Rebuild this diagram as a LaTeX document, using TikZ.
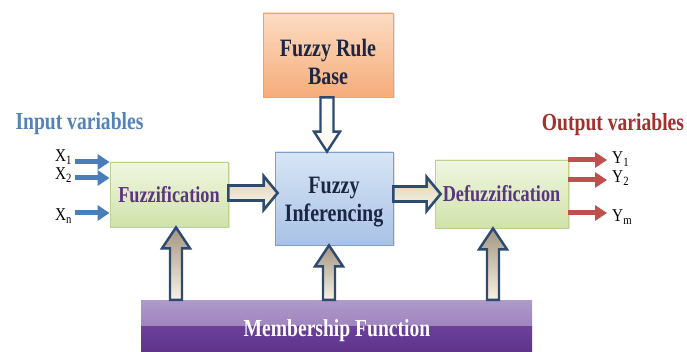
\documentclass[tikz,border=0pt]{standalone}
\usepackage{fontspec}
\setmainfont{Liberation Serif}
\newfontfamily\cf[FakeStretch=0.85]{Liberation Serif}
\newfontfamily\cb[FakeStretch=0.8]{Liberation Serif Bold}
\usetikzlibrary{arrows.meta,calc,shadows}
\definecolor{rbA}{HTML}{FCDCC3}
\definecolor{rbB}{HTML}{F6AC7A}
\definecolor{rbD}{HTML}{F0A06A}
\definecolor{infA}{HTML}{D8E5F5}
\definecolor{infB}{HTML}{A8C2E6}
\definecolor{infD}{HTML}{7E9CCC}
\definecolor{fzA}{HTML}{F0F6E0}
\definecolor{fzB}{HTML}{D0E2AA}
\definecolor{fzD}{HTML}{BCD18C}
\definecolor{mfA}{HTML}{B09BCB}
\definecolor{mfB}{HTML}{8C6DB1}
\definecolor{mfC}{HTML}{6C409B}
\definecolor{mfD}{HTML}{5E3389}
\definecolor{navy}{HTML}{1C2541}
\definecolor{purp}{HTML}{5B3580}
\definecolor{inblue}{HTML}{5483B7}
\definecolor{outred}{HTML}{A2302D}
\definecolor{arrblue}{HTML}{4A7EBB}
\definecolor{arrred}{HTML}{C0504D}
\definecolor{barD}{HTML}{2D4A70}
\definecolor{tanA}{HTML}{A39682}
\definecolor{tanB}{HTML}{F8F2E4}
\definecolor{hA}{HTML}{DDD0AE}
\definecolor{hB}{HTML}{FBF8F0}
\newcommand\uparr[3]{%
  \draw[upbar] let \p1=(#1), \p2=(#2) in
  ({\x2+(#3)-6},{\y1}) -- ({\x2+(#3)-6},{\y2-21}) -- ({\x2+(#3)-14},{\y2-21}) -- ({\x2+(#3)},{\y2})
  -- ({\x2+(#3)+14},{\y2-21}) -- ({\x2+(#3)+6},{\y2-21}) -- ({\x2+(#3)+6},{\y1}) -- cycle;}
\newcommand\downarr[3]{%
  \draw[downbar] let \p1=(#1), \p2=(#2) in
  ({\x1+(#3)-6.5},{\y1}) -- ({\x1+(#3)-6.5},{\y2+20}) -- ({\x1+(#3)-13},{\y2+20}) -- ({\x1+(#3)},{\y2})
  -- ({\x1+(#3)+13},{\y2+20}) -- ({\x1+(#3)+6.5},{\y2+20}) -- ({\x1+(#3)+6.5},{\y1}) -- cycle;}
\newcommand\harr[4]{%
  \draw[hbar] let \p1=(#1), \p2=(#2) in
  ({\x1},{\y1+(#3)+7.5}) -- ({\x2+(#4)-14},{\y1+(#3)+7.5}) -- ({\x2+(#4)-14},{\y1+(#3)+17}) -- ({\x2+(#4)},{\y1+(#3)})
  -- ({\x2+(#4)-14},{\y1+(#3)-17}) -- ({\x2+(#4)-14},{\y1+(#3)-7.5}) -- ({\x1},{\y1+(#3)-7.5}) -- cycle;}
\begin{document}
\begin{tikzpicture}[x=1pt,y=-1pt,
  box/.style={draw, line width=0.8pt, inner sep=0pt,
    drop shadow={opacity=0.22, shadow xshift=1.5pt, shadow yshift=-1.5pt}},
  rbstyle/.style={top color=rbA, bottom color=rbB, draw=rbD},
  infstyle/.style={top color=infA, bottom color=infB, draw=infD},
  fzstyle/.style={top color=fzA, bottom color=fzB, draw=fzD},
  boxtext/.style={inner sep=0pt, align=center, text=navy,
    font=\cb\fontsize{25}{28}\selectfont},
  stagetext/.style={text=purp, font=\cb\fontsize{22.8}{25}\selectfont},
  vartext/.style={anchor=base, font=\cb\fontsize{24.5}{27}\selectfont},
  sym/.style={anchor=base west, inner sep=0pt, font=\cf\fontsize{18}{18}\selectfont},
  upbar/.style={draw=barD, line width=2.4pt, line join=miter, top color=tanA, bottom color=tanB},
  downbar/.style={draw=barD, line width=2.4pt, line join=miter, top color=white, bottom color=hB},
  hbar/.style={draw=barD, line width=2.6pt, line join=miter, top color=hA, bottom color=hB},
  inarr/.style={draw=arrblue, line width=5pt, -{Triangle[length=12pt,width=15pt]}},
  outarr/.style={draw=arrred, line width=5pt, -{Triangle[length=12pt,width=15pt]}}]
\useasboundingbox (0,0) rectangle (687,352);
\fill[white] (0,0) rectangle (687,352);

% boxes
\node[box, rbstyle, minimum width=130pt, minimum height=84pt] (rb) at (328,55) {};
\node[boxtext] (rbt) at (328,62) {\fontsize{25}{26}\selectfont Fuzzy Rule\\Base};
\node[box, infstyle, minimum width=118pt, minimum height=93pt] (inf) at (334,198.5) {};
\node[boxtext] (inft) at (334,202) {Fuzzy\\Inferencing};
\node[box, fzstyle, stagetext, minimum width=118pt, minimum height=65pt] (fz) at (169,194.5) {Fuzzification};
\node[box, fzstyle, stagetext, minimum width=133pt, minimum height=68pt] (dfz) at (501.5,194) {Defuzzification};

% membership bar
\node[inner sep=0pt, minimum width=391pt, minimum height=52pt,
  path picture={
    \shade[top color=mfA, bottom color=mfB] (path picture bounding box.north west) rectangle (path picture bounding box.east);
    \shade[top color=mfC, bottom color=mfD] (path picture bounding box.west) rectangle (path picture bounding box.south east);
  }] (mf) at (336.5,326) {};
\node[anchor=base, inner sep=0pt, text=white, font=\cb\fontsize{24.5}{26}\selectfont] (mft) at (337,336) {Membership Function};

% titles
\node[vartext, text=inblue] (iv) at (79.5,130) {Input variables};
\node[vartext, text=outred] (ov) at (613,131) {Output variables};

% input symbols and arrows
\node[sym] (x1) at (55,162) {X\textsubscript{1}};
\node[sym] (x2) at (55,180) {X\textsubscript{2}};
\node[sym] (xn) at (55,221) {X\textsubscript{n}};
\coordinate (i1) at (75,162);
\coordinate (i2) at (75,178);
\coordinate (i3) at (75,213);
\draw[inarr] (i1) -- (i1 -| fz.west);
\draw[inarr] (i2) -- (i2 -| fz.west);
\draw[inarr] (i3) -- (i3 -| fz.west);

% output symbols and arrows
\coordinate (o1) at (607,160);
\coordinate (o2) at (607,180);
\coordinate (o3) at (607,213);
\draw[outarr] (o1 -| dfz.east) -- (o1);
\draw[outarr] (o2 -| dfz.east) -- (o2);
\draw[outarr] (o3 -| dfz.east) -- (o3);
\node[sym] (y1) at (612,164) {Y\textsubscript{1}};
\node[sym] (y2) at (612,183) {Y\textsubscript{2}};
\node[sym] (ym) at (612,222) {Y\textsubscript{m}};

% block arrows
\downarr{rb.south}{inf.north}{-1}
\harr{fz.east}{inf.west}{1.5}{3}
\harr{inf.east}{dfz.west}{4.5}{6}
\uparr{mf.north}{fz.south}{7}
\uparr{mf.north}{inf.south}{-5}
\uparr{mf.north}{dfz.south}{-8.5}
\end{tikzpicture}
\end{document}
